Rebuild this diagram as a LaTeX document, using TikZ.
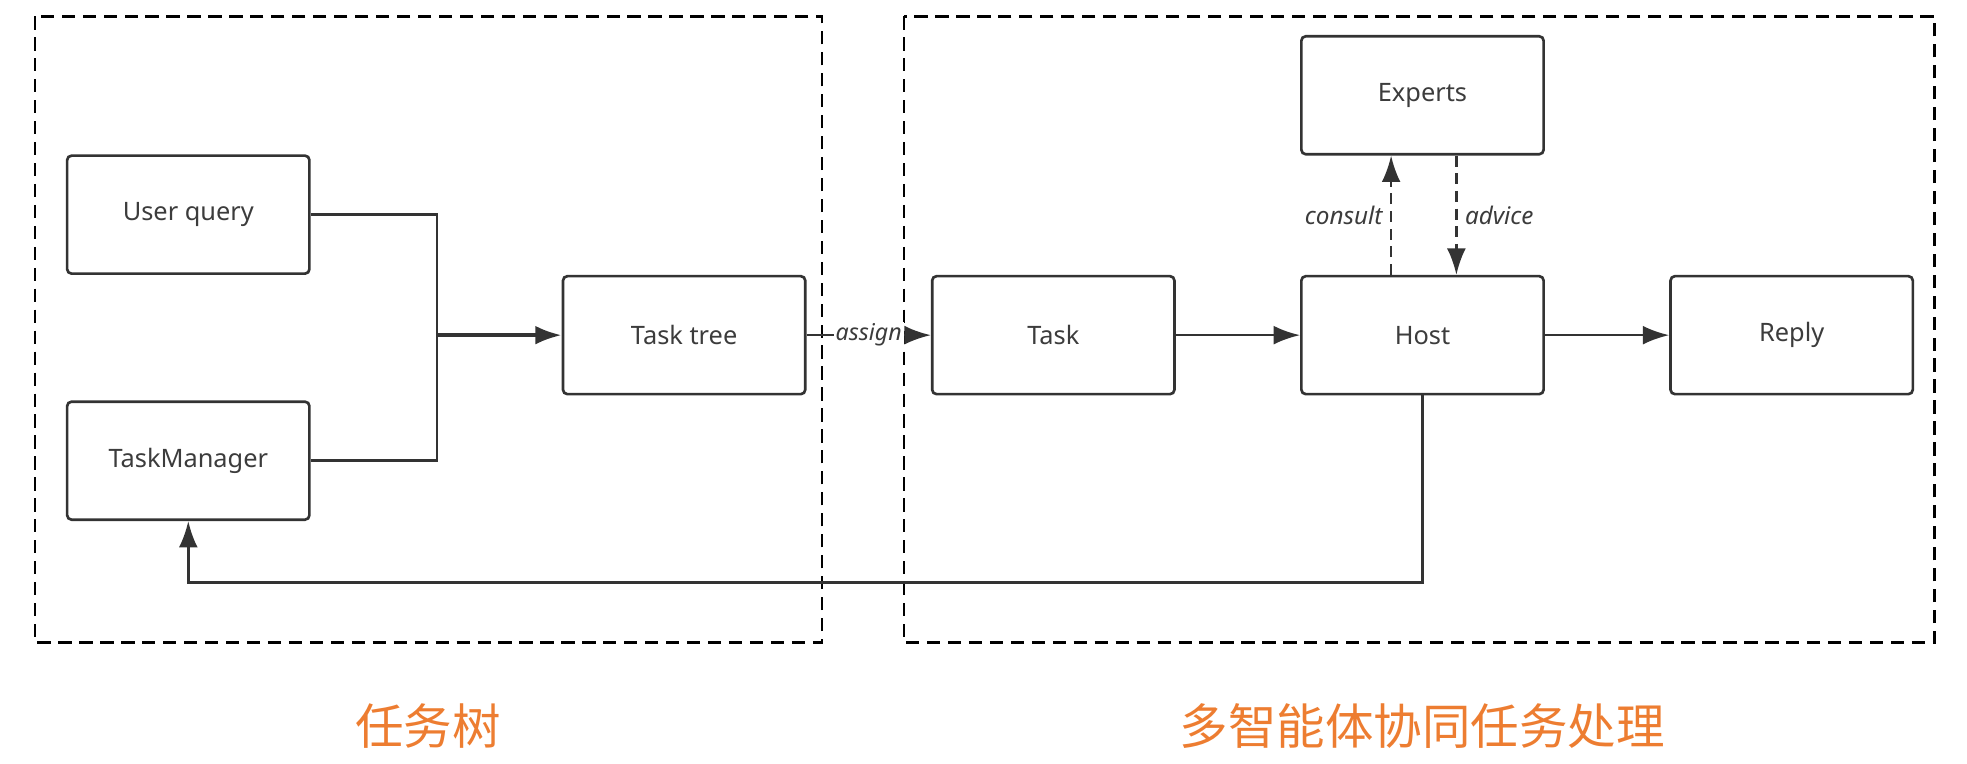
\documentclass[tikz,border=0pt]{standalone}
\usepackage{fontspec}
\usepackage{tikz}
\usetikzlibrary{positioning,calc,arrows.meta}
\setmainfont{Noto Sans}
\newfontfamily\cjk{Noto Sans CJK SC}
\definecolor{myline}{RGB}{51,51,51}
\definecolor{mytext}{RGB}{60,60,60}
\definecolor{myorange}{RGB}{237,125,49}
\tikzstyle{box}=[draw=myline,line width=1.2pt,rounded corners=2pt,minimum width=3.86cm,minimum height=1.88cm,font=\fontsize{11.5}{13}\selectfont,text=mytext]
\tikzstyle{frame}=[draw=black,line width=1.1pt,dash pattern=on 6pt off 3.5pt]
\tikzstyle{title}=[font=\cjk\fontsize{22}{26}\selectfont,text=myorange]

\begin{document}
\begin{tikzpicture}
\tikzstyle{every path}=[myline,line width=1.2pt]
\tikzstyle{flow}=[-{Latex[length=0.42cm,width=0.3cm]}]
\useasboundingbox (0,0) rectangle (31.34,-12.16);
\draw[frame] (0.56,-0.26) rectangle (13.1,-10.24);
\draw[frame] (14.4,-0.26) rectangle (30.82,-10.24);
\node (UQ) [box] at (3.0,-3.42) {User query};
\node (TM) [box] at (3.0,-7.34) {TaskManager};
\node (TT) [box] at (10.9,-5.34) {Task tree};
\node (TK) [box,right=1.98cm of TT] {Task};
\node (H) [box,right=1.98cm of TK] {Host};
\node (R) [box,right=1.98cm of H] {Reply};
\node (E) [box,above=1.9cm of H] {Experts};
\coordinate (M) at (6.96,-5.34);

\draw (UQ.east) -| (M);
\draw (TM.east) -| (M);
\draw[flow,line width=1.7pt] (M) -- (TT.west);
\draw[flow] (TT.east) -- (TK.west) node[midway,fill=white,inner sep=1pt,text=mytext,font=\fontsize{10.5}{12}\selectfont\itshape] {assign};
\draw[flow] (TK.east) -- (H.west);
\draw[flow] (H.east) -- (R.west);
\draw[flow,dash pattern=on 5pt off 3pt] ([xshift=-0.5cm]H.north) -- ([xshift=-0.5cm]E.south) node[midway,left,text=mytext,font=\fontsize{11}{12}\selectfont\itshape] {consult};
\draw[flow,dash pattern=on 5pt off 3pt] ([xshift=0.54cm]E.south) -- ([xshift=0.54cm]H.north) node[midway,right,text=mytext,font=\fontsize{11}{12}\selectfont\itshape] {advice};
\draw[flow] (H.south) -- ++(0,-2.98) -| (TM.south);

\node (T1) [title] at (6.82,-11.56) {任务树};
\node (T2) [title] at (22.66,-11.56) {多智能体协同任务处理};
\end{tikzpicture}
\end{document}
